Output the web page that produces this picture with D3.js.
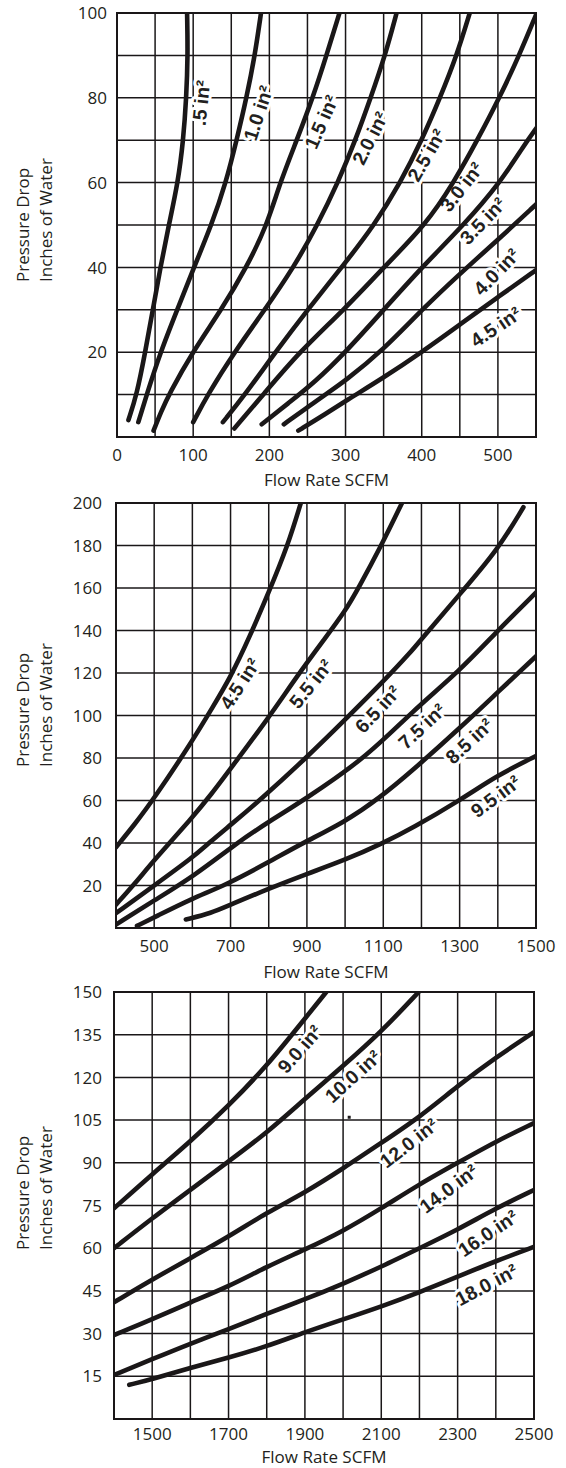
<!DOCTYPE html>
<html><head><meta charset="utf-8">
<script src="https://cdn.jsdelivr.net/npm/d3@7"></script>
<style>
html,body{margin:0;padding:0;background:#fff;}
svg{display:block;}
.axis-text{font-family:"Open Sans",sans-serif;font-size:17px;fill:#231f20;}
.lbl{font-family:"Liberation Sans",Arial,sans-serif;font-weight:bold;font-size:19.5px;fill:#231f20;}
</style></head><body>
<svg id="c" width="566" height="1468"></svg>
<script>
// ---------- DATA: top chart (0-550 SCFM) ----------
const topFlowTicks = [0, 100, 200, 300, 400, 500];
const topPressureTicks = [20, 40, 60, 80, 100];
const topAreas = [".5", "1.0", "1.5", "2.0", "2.5", "3.0", "3.5", "4.0", "4.5"];
const topCurves = [
  [[15,4],[26,10],[37,20],[47,30],[57,40],[68,50],[80,60],[87,70],[91,80],[93,90],[92,100]],
  [[28,3.5],[39,10],[57,20],[79,30],[101,40],[124,50],[143,60],[157,70],[170,80],[181,90],[189,100]],
  [[48,1.5],[58,6],[68,10],[99,20],[137,30],[170,40],[197,50],[214,60],[236,70],[257,80],[275,90],[292,100]],
  [[100,3.5],[119,10],[154,20],[194,30],[232,40],[263,50],[290,60],[313,70],[333,80],[352,90],[367,100]],
  [[139,3.5],[168,10],[208,20],[250,30],[295,40],[338,50],[372,60],[400,70],[424,80],[446,90],[463,100]],
  [[154,2],[192,10],[239,20],[298,30],[350,40],[405,50],[442,60],[473,70],[502,80],[528,90],[551,100]],
  [[190,3],[225,8],[260,13],[300,20],[350,30],[400,40],[455,50],[503,60],[535,69],[551,73]],
  [[219,3],[250,7],[270,9.6],[300,13.3],[350,20.6],[400,30],[450,38.5],[500,46.5],[551,55]],
  [[238,1.5],[270,5],[300,8.5],[350,14],[400,20],[450,26.5],[500,33],[551,39.5]]
];
// label centre [flow, pressure, angle]
const topLabels = [
  [110,78.8,-84],[185,76.4,-72],[268,74.3,-66],[332,70.5,-63],[406,66.5,-60],
  [452,59,-52],[480,51,-46],[498,39,-46],[497,26,-34]
];

// ---------- DATA: middle chart (400-1500 SCFM) ----------
const midFlowTicks = [500, 700, 900, 1100, 1300, 1500];
const midPressureTicks = [20, 40, 60, 80, 100, 120, 140, 160, 180, 200];
const midAreas = ["4.5", "5.5", "6.5", "7.5", "8.5", "9.5"];
const midCurves = [
  [[400,38],[450,49],[500,61],[600,88],[650,103],[700,118],[750,137],[800,158],[850,180],[884,200]],
  [[400,11],[450,21],[500,32],[600,52],[650,63],[700,75],[800,99],[876,119],[946,136],[1000,149],[1035,160],[1095,180],[1149,200]],
  [[400,7],[500,20],[603,33.5],[643,40],[700,48.5],[776,60],[898,80],[1011,100],[1100,116],[1173,130],[1200,136],[1300,157],[1400,178],[1467,198]],
  [[400,1.6],[500,13],[603,24.3],[716,40],[800,50],[890,60],[1054,80],[1176,102],[1300,121],[1400,140],[1501,158]],
  [[455,1],[500,5],[600,14],[685,20],[800,31],[889,40],[1000,50],[1089,61],[1176,74],[1300,94],[1400,111],[1501,128]],
  [[583,4],[650,7],[700,11],[807,19],[900,25.5],[1000,32],[1100,40],[1176,47],[1300,60],[1400,72],[1501,81]]
];
const midLabels = [
  [724,115,-57],[910,115,-51],[1085,103,-47],[1201,95,-43],[1325,88,-43],[1394,62,-37]
];

// ---------- DATA: bottom chart (1400-2500 SCFM) ----------
const botFlowTicks = [1500, 1700, 1900, 2100, 2300, 2500];
const botPressureTicks = [15, 30, 45, 60, 75, 90, 105, 120, 135, 150];
const botAreas = ["9.0", "10.0", "12.0", "14.0", "16.0", "18.0"];
const botCurves = [
  [[1400,74],[1500,86],[1600,97.5],[1700,110],[1800,124],[1890,139],[1956,150]],
  [[1400,60],[1500,70.5],[1600,80.5],[1700,90.5],[1800,100.5],[1900,112.5],[2000,124],[2100,136],[2198,150]],
  [[1400,41],[1500,49],[1600,56.5],[1700,64],[1800,72.5],[1900,79.5],[2000,88],[2100,97],[2200,106],[2300,117],[2400,127],[2501,136]],
  [[1400,29.5],[1500,35],[1600,41],[1700,46.5],[1800,53.5],[1900,59.5],[2000,66],[2100,74],[2200,82.5],[2300,90],[2400,97.5],[2501,104]],
  [[1400,15.5],[1500,21],[1600,26.5],[1700,31.5],[1800,37],[1900,42],[2000,47.5],[2100,53.5],[2200,60],[2300,66.5],[2400,74],[2501,80.5]],
  [[1440,12],[1500,14],[1600,18],[1700,21.5],[1800,25.5],[1900,30.5],[2000,35],[2100,39.5],[2200,44.5],[2300,50],[2400,55.5],[2501,60.5]]
];
const botLabels = [
  [1886,130,-49],[2025,120.4,-42],[2172,97,-38],[2276,81,-37],[2379,65.3,-34],[2375,47.2,-28]
];
const botSpeck = [[2016,106]];

const xTitle = "Flow Rate SCFM";
const yTitle = ["Pressure Drop", "Inches of Water"];

// ---------- LAYOUT ----------
const panels = [
  {xd:[0,550], yd:[0,100], xr:[117,536], yr:[437,13], xs:50, ys:10,
   xt:topFlowTicks, yt:topPressureTicks, curves:topCurves, names:topAreas, labels:topLabels,
   tickRight:107, xTickY:455, titleY:480, yLabStart:282, speck:[]},
  {xd:[400,1500], yd:[0,200], xr:[116,536], yr:[928,503], xs:100, ys:20,
   xt:midFlowTicks, yt:midPressureTicks, curves:midCurves, names:midAreas, labels:midLabels,
   tickRight:102, xTickY:946, titleY:972, yLabStart:767, speck:[]},
  {xd:[1400,2500], yd:[0,150], xr:[114,534], yr:[1419,992], xs:100, ys:15,
   xt:botFlowTicks, yt:botPressureTicks, curves:botCurves, names:botAreas, labels:botLabels,
   tickRight:102, xTickY:1434, titleY:1457, yLabStart:1250, speck:botSpeck}
];

const svg = d3.select("#c");
const ink = "#1a1718";

panels.forEach((p, i) => {
  const x = d3.scaleLinear().domain(p.xd).range(p.xr);
  const y = d3.scaleLinear().domain(p.yd).range(p.yr);
  const g = svg.append("g");
  const clipId = "clip" + i;
  g.append("clipPath").attr("id", clipId).append("rect")
    .attr("x", p.xr[0]).attr("y", p.yr[1])
    .attr("width", p.xr[1]-p.xr[0]).attr("height", p.yr[0]-p.yr[1]);

  // grid
  const xg = d3.range(p.xd[0], p.xd[1] + 1e-6, p.xs);
  const yg = d3.range(p.yd[0], p.yd[1] + 1e-6, p.ys);
  g.append("g").selectAll("line").data(xg).join("line")
    .attr("x1", d => x(d)).attr("x2", d => x(d))
    .attr("y1", y(p.yd[0])).attr("y2", y(p.yd[1]))
    .attr("stroke", ink).attr("stroke-width", 1.5);
  g.append("g").selectAll("line").data(yg).join("line")
    .attr("y1", d => y(d)).attr("y2", d => y(d))
    .attr("x1", x(p.xd[0])).attr("x2", x(p.xd[1]))
    .attr("stroke", ink).attr("stroke-width", 1.5);
  g.append("rect")
    .attr("x", x(p.xd[0])).attr("y", y(p.yd[1]))
    .attr("width", x(p.xd[1]) - x(p.xd[0])).attr("height", y(p.yd[0]) - y(p.yd[1]))
    .attr("fill", "none").attr("stroke", ink).attr("stroke-width", 2);

  // curve labels (white knock-out over grid)
  const lg = g.append("g").selectAll("g").data(p.labels).join("g")
    .attr("transform", d => `translate(${x(d[0])},${y(d[1])}) rotate(${d[2]})`);
  lg.append("text").attr("class", "lbl")
    .attr("text-anchor", "middle").attr("dy", "0.36em")
    .attr("stroke", "#fff").attr("stroke-width", 6).attr("stroke-linejoin", "round")
    .attr("paint-order", "stroke")
    .text((d, j) => p.names[j] + " in\u00B2");

  // curves
  const line = d3.line().x(d => x(d[0])).y(d => y(d[1])).curve(d3.curveBasis);
  g.append("g").attr("clip-path", `url(#${clipId})`)
    .selectAll("path").data(p.curves).join("path")
    .attr("d", line).attr("fill", "none").attr("stroke", ink)
    .attr("stroke-width", 4.6).attr("stroke-linecap", "round").attr("stroke-linejoin", "round");

  g.selectAll("rect.speck").data(p.speck).join("rect").attr("class", "speck")
    .attr("x", d => x(d[0]) - 1.5).attr("y", d => y(d[1]) - 1.5)
    .attr("width", 3).attr("height", 3).attr("fill", ink);

  // tick labels
  g.append("g").selectAll("text").data(p.xt).join("text").attr("class", "axis-text")
    .attr("x", d => x(d)).attr("y", p.xTickY).attr("dy", "0.36em")
    .attr("text-anchor", "middle").text(d => d);
  g.append("g").selectAll("text").data(p.yt).join("text").attr("class", "axis-text")
    .attr("x", p.tickRight).attr("y", d => y(d)).attr("dy", "0.36em")
    .attr("text-anchor", "end").text(d => d);

  // titles
  g.append("text").attr("class", "axis-text")
    .attr("x", (p.xr[0] + p.xr[1]) / 2).attr("y", p.titleY).attr("dy", "0.36em")
    .attr("text-anchor", "middle").text(xTitle);
  [29, 52].forEach((bx, k) => {
    g.append("text").attr("class", "axis-text")
      .attr("transform", `translate(${bx},${p.yLabStart}) rotate(-90)`)
      .attr("text-anchor", "start").text(yTitle[k]);
  });
});
</script>
</body></html>
